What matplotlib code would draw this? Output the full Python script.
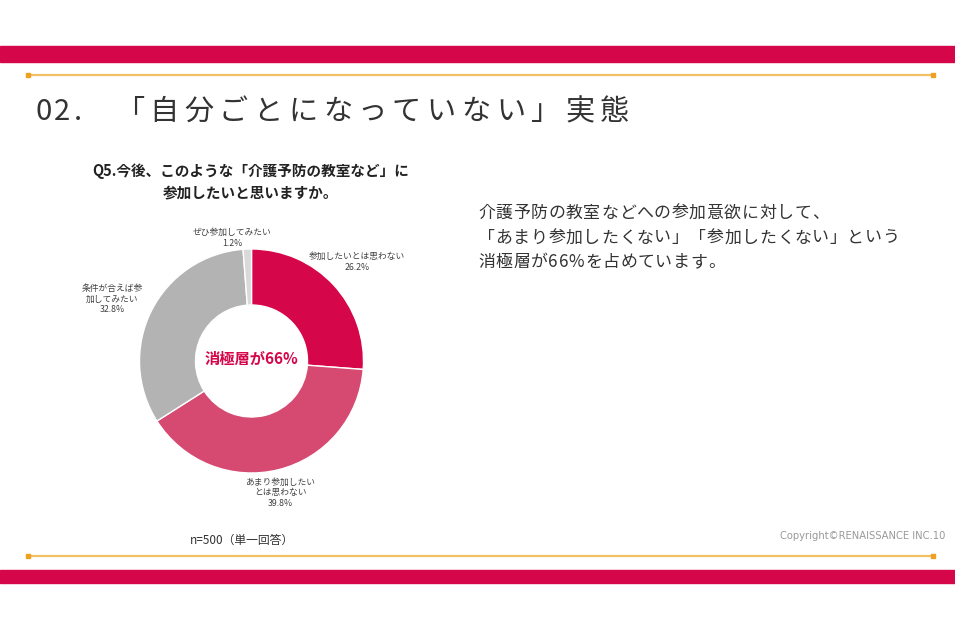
import matplotlib
matplotlib.use('Agg')
import matplotlib.pyplot as plt

plt.rcParams['font.family'] = ['Noto Sans CJK JP', 'DejaVu Sans']

# データ
categories = ['参加したいとは思わない', 'あまり参加したいとは思わない',
              '条件が合えば参加してみたい', 'ぜひ参加してみたい']
values = [26.2, 39.8, 32.8, 1.2]
label_texts = ['参加したいとは思わない\n26.2%',
               'あまり参加したい\nとは思わない\n39.8%',
               '条件が合えば参\n加してみたい\n32.8%',
               'ぜひ参加してみたい\n1.2%']
colors = ['#D6064A', '#D64A72', '#B3B3B3', '#D9D9D9']
center_text = '消極層が66%'
question = 'Q5.今後、このような「介護予防の教室など」に\n参加したいと思いますか。'
title_num = '02.'
title_text = '「自分ごとになっていない」実態'
body_lines = ['介護予防の教室などへの参加意欲に対して、',
              '「あまり参加したくない」「参加したくない」という',
              '消極層が66%を占めています。']
note = 'n=500（単一回答）'
copyright_text = 'Copyright©RENAISSANCE INC.10'

# ラベル位置（ピクセル）
label_pos = [(357, 262), (280, 493), (112, 299), (232, 238)]

W, H = 955, 630
fig = plt.figure(figsize=(W / 100, H / 100), dpi=100)

# 背景用の軸（ピクセル座標）
bg = fig.add_axes([0, 0, 1, 1])
bg.set_xlim(0, W)
bg.set_ylim(H, 0)
bg.axis('off')

red = '#D6064A'
orange = '#F2C063'
bg.axhspan(46, 62, color=red, zorder=1)
bg.axhspan(570, 583, color=red, zorder=1)
for yy in (75, 556):
    bg.plot([28, 933], [yy, yy], color=orange, lw=1.6, zorder=2)
    bg.plot([28, 933], [yy, yy], ls='none', marker='s', ms=3.5,
            color='#F0A020', zorder=3)


def tracked(ax, x, y, s, spacing, **kw):
    """1文字ずつ字間を空けて描画"""
    r = fig.canvas.get_renderer()
    for ch in s:
        t = ax.text(x, y, ch, **kw)
        x += t.get_window_extent(r).width + spacing


# タイトル
tracked(bg, 35, 112, title_num, 3, fontsize=21, color='#333333',
        va='center', ha='left')
tracked(bg, 115, 112, title_text, 5.5, fontsize=21, color='#333333',
        va='center', ha='left')

# 設問
bg.text(251, 182, question, fontsize=10.5, fontweight='bold', color='#222222',
        ha='center', va='center', linespacing=1.45)

# 本文
for i, line in enumerate(body_lines):
    tracked(bg, 478, 213 + i * 24.5, line, 0.7, fontsize=12.2,
            color='#333333', ha='left', va='center')

bg.text(190, 540, note, fontsize=8.5, color='#333333', ha='left', va='center')
bg.text(945, 536, copyright_text, fontsize=7.2, color='#999999',
        ha='right', va='center', family='DejaVu Sans')

# ドーナツグラフ
cx, cy, R = 251.5, 361, 112
pie_ax = fig.add_axes([(cx - R) / W, (H - cy - R) / H, 2 * R / W, 2 * R / H])
pie_ax.pie(values, colors=colors, startangle=90, counterclock=False,
           radius=1, wedgeprops=dict(width=0.5, edgecolor='white', linewidth=1))
pie_ax.set_xlim(-1, 1)
pie_ax.set_ylim(-1, 1)
pie_ax.set_aspect('equal')
pie_ax.text(0, 0.02, center_text, fontsize=11, fontweight='bold', color=red,
            ha='center', va='center')

for txt, (lx, ly) in zip(label_texts, label_pos):
    bg.text(lx, ly, txt, fontsize=6.3, color='#404040', ha='center',
            va='center', linespacing=1.25, zorder=5)

fig.savefig('out.png', dpi=100)
